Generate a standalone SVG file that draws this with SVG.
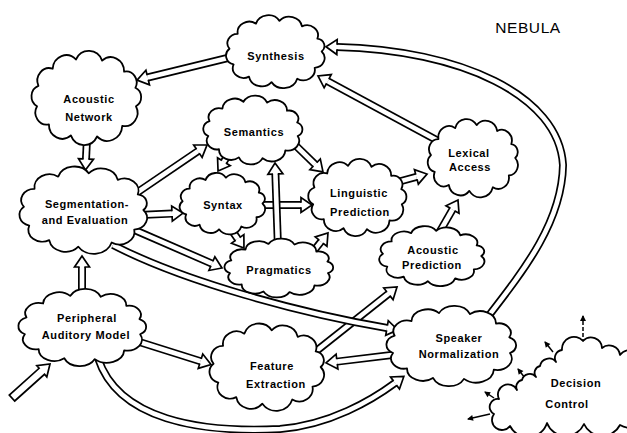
<svg xmlns="http://www.w3.org/2000/svg" xmlns:xlink="http://www.w3.org/1999/xlink" width="627" height="433" viewBox="0 0 627 433">
  <style>
    .cloud { fill: #fff; stroke: #000; stroke-width: 1.8; stroke-linejoin: round; vector-effect: non-scaling-stroke; }
    .lbl { font-family: "Liberation Sans", Arial, sans-serif; font-size: 11px; font-weight: bold; letter-spacing: 0.6px; text-anchor: middle; fill: #000; }
    .title { font-family: "Liberation Sans", Arial, sans-serif; font-size: 15.5px; letter-spacing: 0.6px; text-anchor: middle; fill: #000; }
    .ao { fill: none; stroke: #000; stroke-width: 8; }
    .ai { fill: none; stroke: #fff; stroke-width: 4.6; marker-end: url(#head); }
    .thin { fill: none; stroke: #000; stroke-width: 1.5; marker-end: url(#tip); }
  </style>
  <defs>
    <!-- hollow arrowhead; path ends at the head base, head extends 11px ahead -->
    <marker id="head" markerUnits="userSpaceOnUse" orient="auto" refX="0" refY="0" markerWidth="24" markerHeight="24" overflow="visible">
      <path d="M0,-3.2 L0,-7.5 L11,0 L0,7.5 L0,3.2" fill="#fff" stroke="#000" stroke-width="1.7" stroke-linecap="square" stroke-linejoin="miter"/>
    </marker>
    <marker id="tip" markerUnits="userSpaceOnUse" orient="auto" refX="0" refY="0" markerWidth="10" markerHeight="10" overflow="visible">
      <path d="M1,0 L-5,-3 L-5,3 Z" fill="#000"/>
    </marker>
    <!-- two scalloped cloud outlines, about 98 x 78 units -->
    <path id="cloudA" class="cloud" d="M44,0 A10.1,10.1 0 0 1 37.3,17 A11,11 0 0 1 20.7,28.3 A13.6,13.6 0 0 1 -3.8,31.9 A12.2,12.2 0 0 1 -25.2,26.2 A10.3,10.3 0 0 1 -39.9,13.5 A9.4,9.4 0 0 1 -43.8,-2.8 A9.7,9.7 0 0 1 -36,-18.4 A11.1,11.1 0 0 1 -18.6,-29 A12.4,12.4 0 0 1 3.8,-31.9 A12.3,12.3 0 0 1 25.2,-26.2 A10.5,10.5 0 0 1 39.9,-13.5 A7.8,7.8 0 0 1 44,0 Z"/>
    <path id="cloudB" class="cloud" d="M43,6.7 A10.9,10.9 0 0 1 31.1,22.6 A13,13 0 0 1 9.2,31.3 A12.5,12.5 0 0 1 -13.6,30.4 A11.6,11.6 0 0 1 -32.7,21.4 A9.8,9.8 0 0 1 -43,6.7 A9.1,9.1 0 0 1 -41.8,-9.9 A10.2,10.2 0 0 1 -29.4,-23.8 A11.8,11.8 0 0 1 -9.2,-31.3 A12.5,12.5 0 0 1 13.6,-30.4 A11.6,11.6 0 0 1 32.7,-21.4 A9,9 0 0 1 42.5,-8.3 A8.3,8.3 0 0 1 43,6.7 Z"/>
  </defs>

  <rect width="627" height="433" fill="#fff"/>

  <g id="connectors">
    <!-- Synthesis -> Acoustic Network -->
    <path class="ao" d="M240,55 L147.7,77.5"/><path class="ai" d="M240,55 L147.7,77.5"/>
    <!-- Speaker Normalization -> Synthesis (large loop) -->
    <path class="ao" d="M480,327 C520,275 562,225 563,165 C559,95 460,50 337,47"/><path class="ai" d="M480,327 C520,275 562,225 563,165 C559,95 460,50 337,47"/>
    <!-- Lexical Access -> Synthesis -->
    <path class="ao" d="M442,143 L327.7,81.2"/><path class="ai" d="M442,143 L327.7,81.2"/>
    <!-- Acoustic Network -> Segmentation -->
    <path class="ao" d="M87,138 L86,159"/><path class="ai" d="M87,138 L86,159"/>
    <!-- Segmentation -> Semantics -->
    <path class="ao" d="M132,196 L197.9,151.2"/><path class="ai" d="M132,196 L197.9,151.2"/>
    <!-- Segmentation -> Syntax -->
    <path class="ao" d="M140,215 L172,213.6"/><path class="ai" d="M140,215 L172,213.6"/>
    <!-- Segmentation -> Pragmatics -->
    <path class="ao" d="M130,228 L211.9,263.6"/><path class="ai" d="M130,228 L211.9,263.6"/>
    <!-- Feature Extraction -> Acoustic Prediction -->
    <path class="ao" d="M310,356 L388.4,293.8"/><path class="ai" d="M310,356 L388.4,293.8"/>
    <!-- Segmentation -> Speaker Normalization -->
    <path class="ao" d="M113,245 C185,282 300,313 387,328"/><path class="ai" d="M113,245 C185,282 300,313 387,328"/>
    <!-- Semantics -> Syntax -->
    <path class="ao" d="M230,152 L223.9,161.7"/><path class="ai" d="M230,152 L223.9,161.7"/>
    <!-- Semantics -> Linguistic Prediction -->
    <path class="ao" d="M290,140 L315.1,164.3"/><path class="ai" d="M290,140 L315.1,164.3"/>
    <!-- Syntax -> Linguistic Prediction -->
    <path class="ao" d="M256,205 L301,205"/><path class="ai" d="M256,205 L301,205"/>
    <!-- Pragmatics -> Semantics -->
    <path class="ao" d="M278,248 L275.4,174"/><path class="ai" d="M278,248 L275.4,174"/>
    <!-- Syntax -> Pragmatics -->
    <path class="ao" d="M226,222 L237.7,238.9"/><path class="ai" d="M226,222 L237.7,238.9"/>
    <!-- Pragmatics -> Linguistic Prediction -->
    <path class="ao" d="M308,258 L321.1,241.6"/><path class="ai" d="M308,258 L321.1,241.6"/>
    <!-- Linguistic Prediction -> Lexical Access -->
    <path class="ao" d="M392,183.5 L416.4,176.9"/><path class="ai" d="M392,183.5 L416.4,176.9"/>
    <!-- Acoustic Prediction -> Lexical Access -->
    <path class="ao" d="M435,240 L452.5,209.5"/><path class="ai" d="M435,240 L452.5,209.5"/>
    <!-- Peripheral Auditory Model -> Segmentation -->
    <path class="ao" d="M82,298 L82,267"/><path class="ai" d="M82,298 L82,267"/>
    <!-- Peripheral Auditory Model -> Feature Extraction -->
    <path class="ao" d="M133,340 L200.5,361.2"/><path class="ai" d="M133,340 L200.5,361.2"/>
    <!-- Speaker Normalization -> Feature Extraction -->
    <path class="ao" d="M400,354 L337,361.6"/><path class="ai" d="M400,354 L337,361.6"/>
    <!-- Peripheral Auditory Model -> Speaker Normalization (lower loop) -->
    <path class="ao" d="M98,358 C118,420 200,433 280,429 C330,425 372,400 395,383"/><path class="ai" d="M98,358 C118,420 200,433 280,429 C330,425 372,400 395,383"/>
    <!-- input arrow -->
    <polygon points="14.7,401 44.5,374.3 46.8,376.9 50,364 36.8,365.7 39.1,368.3 9.3,395" fill="#fff" stroke="#000" stroke-width="1.7" stroke-linejoin="miter"/>
    <!-- Decision Control outputs -->
    <path class="thin" d="M583,343 L583,316" stroke-dasharray="4,2"/>
    <path class="thin" d="M553,352 L545,342"/>
    <path class="thin" d="M525,378 L518,369"/>
    <path class="thin" d="M494,398 L485,392"/>
    <path class="thin" d="M490,414 L468,419"/>
    <path class="thin" d="M634,371 L623,374"/>
  </g>

  <g id="synthesis">
    <use xlink:href="#cloudA" transform="translate(275.5,51.5) scale(1.05,0.96)"/>
    <text class="lbl" x="276" y="60">Synthesis</text>
  </g>
  <g id="acoustic-network">
    <use xlink:href="#cloudB" transform="translate(86.5,98) scale(1.15,1.23)"/>
    <text class="lbl" x="89" y="103">Acoustic</text>
    <text class="lbl" x="89" y="121">Network</text>
  </g>
  <g id="semantics">
    <use xlink:href="#cloudB" transform="translate(253,130) scale(1.04,0.9)"/>
    <text class="lbl" x="254" y="136">Semantics</text>
  </g>
  <g id="syntax">
    <use xlink:href="#cloudA" transform="translate(222.5,203.5) scale(0.91,0.81)"/>
    <text class="lbl" x="223" y="209">Syntax</text>
  </g>
  <g id="segmentation">
    <use xlink:href="#cloudA" transform="translate(83.5,210) scale(1.36,1.15)"/>
    <text class="lbl" x="87" y="208">Segmentation-</text>
    <text class="lbl" x="85" y="224">and Evaluation</text>
  </g>
  <g id="linguistic-prediction">
    <use xlink:href="#cloudB" transform="translate(357.5,197.5) scale(1.03,1.01)"/>
    <text class="lbl" x="359" y="197">Linguistic</text>
    <text class="lbl" x="360" y="216">Prediction</text>
  </g>
  <g id="lexical-access">
    <use xlink:href="#cloudA" transform="translate(473,158) scale(0.96,1.03)"/>
    <text class="lbl" x="469" y="157">Lexical</text>
    <text class="lbl" x="470" y="171">Access</text>
  </g>
  <g id="pragmatics">
    <use xlink:href="#cloudB" transform="translate(279,268) scale(1.14,0.77)"/>
    <text class="lbl" x="279" y="274">Pragmatics</text>
  </g>
  <g id="acoustic-prediction">
    <use xlink:href="#cloudA" transform="translate(432,256) scale(1.12,0.79)"/>
    <text class="lbl" x="433" y="254">Acoustic</text>
    <text class="lbl" x="432" y="269">Prediction</text>
  </g>
  <g id="peripheral-auditory-model">
    <use xlink:href="#cloudB" transform="translate(82.5,327.5) scale(1.34,1.01)"/>
    <text class="lbl" x="87" y="322">Peripheral</text>
    <text class="lbl" x="86" y="339">Auditory Model</text>
  </g>
  <g id="feature-extraction">
    <use xlink:href="#cloudA" transform="translate(267,367) scale(1.22,1.15)"/>
    <text class="lbl" x="272" y="370">Feature</text>
    <text class="lbl" x="276" y="388">Extraction</text>
  </g>
  <g id="speaker-normalization">
    <use xlink:href="#cloudB" transform="translate(451.5,346) scale(1.36,1.05)"/>
    <text class="lbl" x="459" y="342">Speaker</text>
    <text class="lbl" x="459" y="358">Normalization</text>
  </g>
  <g id="decision-control">
    <path class="cloud" d="M494,414 A8,8 0 0 1 499,399 A10,10 0 0 1 517,390 A7,7 0 0 1 522,380 A8,8 0 0 1 536,377 A7,7 0 0 1 540,366 A9,9 0 0 1 556,362 A8,8 0 0 1 562,350 A12,12 0 0 1 583,341 A11,11 0 0 1 602,348 A11,11 0 0 1 620,355 A12,12 0 0 1 640,370 L640,425 A20,20 0 0 1 620,425 A20,20 0 0 1 584,424 A20,20 0 0 1 547,423 A20,20 0 0 1 510,426 A10,10 0 0 1 494,414 Z"/>
    <text class="lbl" x="576" y="387">Decision</text>
    <text class="lbl" x="567" y="408">Control</text>
  </g>

  <text class="title" x="528" y="33">NEBULA</text>
</svg>
